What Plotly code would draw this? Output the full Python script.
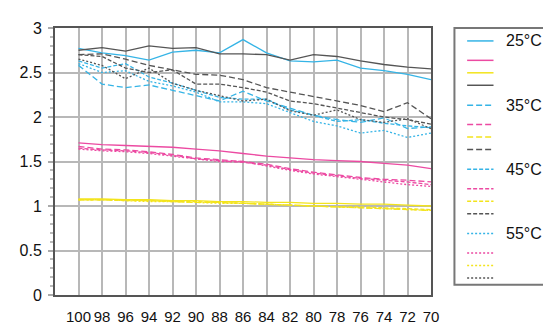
import plotly.graph_objects as go

# ---------------- data ----------------
categories = ["100", "98", "96", "94", "92", "90", "88", "86",
              "84", "82", "80", "78", "76", "74", "72", "70"]
temperatures = ["25°C", "35°C", "45°C", "55°C"]
series_colors = ["#35b4e6", "#ec4aa2", "#f3e41c", "#555555"]

cyan_25 = [2.77, 2.72, 2.69, 2.64, 2.73, 2.75, 2.72, 2.87, 2.72, 2.63, 2.62, 2.64, 2.55, 2.52, 2.48, 2.42]
pink_25 = [1.71, 1.69, 1.68, 1.67, 1.66, 1.64, 1.62, 1.59, 1.56, 1.54, 1.52, 1.51, 1.50, 1.48, 1.46, 1.42]
yellow_25 = [1.08, 1.08, 1.07, 1.07, 1.06, 1.06, 1.05, 1.05, 1.04, 1.04, 1.03, 1.03, 1.02, 1.02, 1.01, 1.00]
gray_25 = [2.75, 2.78, 2.74, 2.80, 2.77, 2.78, 2.71, 2.71, 2.70, 2.64, 2.70, 2.68, 2.63, 2.59, 2.56, 2.54]

cyan_35 = [2.58, 2.37, 2.33, 2.36, 2.30, 2.24, 2.18, 2.29, 2.18, 2.10, 2.02, 1.97, 1.94, 1.99, 1.87, 1.89]
pink_35 = [1.67, 1.64, 1.63, 1.61, 1.58, 1.54, 1.52, 1.50, 1.47, 1.42, 1.38, 1.35, 1.32, 1.30, 1.29, 1.27]
yellow_35 = [1.07, 1.07, 1.07, 1.06, 1.05, 1.04, 1.04, 1.03, 1.02, 1.01, 1.00, 0.99, 0.98, 0.97, 0.96, 0.95]
gray_35 = [2.70, 2.71, 2.65, 2.58, 2.53, 2.48, 2.47, 2.42, 2.33, 2.28, 2.23, 2.18, 2.13, 2.06, 2.16, 1.98]

cyan_45 = [2.63, 2.55, 2.60, 2.45, 2.38, 2.30, 2.22, 2.20, 2.20, 2.08, 2.02, 1.95, 1.97, 1.93, 1.90, 1.88]
pink_45 = [1.65, 1.63, 1.62, 1.60, 1.57, 1.53, 1.51, 1.49, 1.46, 1.41, 1.37, 1.34, 1.31, 1.29, 1.27, 1.24]
yellow_45 = [1.07, 1.07, 1.06, 1.06, 1.05, 1.05, 1.04, 1.03, 1.02, 1.01, 1.00, 0.99, 0.99, 0.98, 0.97, 0.96]
gray_45 = [2.70, 2.68, 2.55, 2.50, 2.53, 2.37, 2.37, 2.33, 2.28, 2.18, 2.15, 2.10, 2.05, 2.00, 1.97, 1.92]

cyan_55 = [2.60, 2.50, 2.52, 2.40, 2.35, 2.28, 2.17, 2.17, 2.15, 2.05, 1.95, 1.90, 1.82, 1.85, 1.77, 1.82]
pink_55 = [1.64, 1.62, 1.61, 1.59, 1.56, 1.53, 1.50, 1.50, 1.45, 1.40, 1.36, 1.33, 1.30, 1.27, 1.24, 1.22]
yellow_55 = [1.07, 1.07, 1.06, 1.05, 1.05, 1.04, 1.03, 1.03, 1.02, 1.01, 1.00, 0.99, 0.98, 0.97, 0.96, 0.95]
gray_55 = [2.65, 2.58, 2.43, 2.55, 2.38, 2.30, 2.24, 2.18, 2.20, 2.07, 2.02, 2.08, 1.97, 1.94, 1.98, 1.87]

y_tick_values = [0, 0.5, 1, 1.5, 2, 2.5, 3]
y_tick_labels = ["0", "0.5", "1", "1.5", "2", "2.5", "3"]

groups = [
    [cyan_25, pink_25, yellow_25, gray_25],
    [cyan_35, pink_35, yellow_35, gray_35],
    [cyan_45, pink_45, yellow_45, gray_45],
    [cyan_55, pink_55, yellow_55, gray_55],
]

# ---------------- styling ----------------
W, H = 551, 329
L, R, T, B = 38, 423, 13, 302
dash_styles = ["solid", "6px,3px", "4px,2px", "2px,2px"]
FONT = "Liberation Sans, Arial, Helvetica, sans-serif"

x_idx = list(range(len(categories)))

fig = go.Figure()
for g, temp in enumerate(temperatures):
    for k, vals in enumerate(groups[g]):
        fig.add_trace(go.Scatter(
            x=x_idx, y=vals, mode="lines",
            line=dict(color=series_colors[k], width=1.3, dash=dash_styles[g]),
            name=temp if k == 0 else "", showlegend=False, hoverinfo="skip"))


def px_x(p):
    return (p - L) / (R - L)


def px_y(p):
    return (B - p) / (B - T)


shapes = []
annotations = []
# legend box
shapes.append(dict(type="rect", xref="paper", yref="paper",
                   x0=px_x(447), x1=px_x(549), y0=px_y(291), y1=px_y(13),
                   line=dict(color="#777777", width=2), fillcolor="white", layer="above"))
for g, temp in enumerate(temperatures):
    for k in range(4):
        yy = 27 + g * 69.5 + (0 if k == 0 else 21 + (k - 1) * 13.5)
        shapes.append(dict(type="line", xref="paper", yref="paper",
                           x0=px_x(460), x1=px_x(487), y0=px_y(yy), y1=px_y(yy),
                           line=dict(color=series_colors[k], width=1.5, dash=dash_styles[g]),
                           layer="above"))
        if k == 0:
            annotations.append(dict(xref="paper", yref="paper", x=px_x(498), y=px_y(yy),
                                    text=temp, showarrow=False, xanchor="left", yanchor="middle",
                                    font=dict(size=16, color="#111111", family=FONT)))

fig.update_layout(
    width=W, height=H,
    margin=dict(l=L, r=W - R, t=T, b=H - B, pad=0),
    plot_bgcolor="white", paper_bgcolor="white",
    font=dict(family=FONT, size=15, color="#111111"),
    showlegend=False,
    shapes=shapes, annotations=annotations,
)
fig.update_xaxes(
    range=[-1, len(categories) - 1], tickvals=x_idx, ticktext=categories,
    showgrid=True, gridcolor="#b8b8b8", gridwidth=2,
    showline=True, linecolor="#555555", linewidth=2, mirror=True,
    ticks="", ticklabelstandoff=7, zeroline=False,
    tickfont=dict(size=15, color="#111111"),
)
fig.update_yaxes(
    range=[0, 3], tickvals=y_tick_values, ticktext=y_tick_labels,
    showgrid=True, gridcolor="#b8b8b8", gridwidth=2,
    showline=True, linecolor="#555555", linewidth=2, mirror=True,
    ticks="outside", ticklen=5, tickcolor="#aaaaaa", tickwidth=2,
    ticklabelstandoff=3, zeroline=False,
    minor=dict(dtick=0.1, ticks="outside", ticklen=3, tickcolor="#bbbbbb", showgrid=False),
    tickfont=dict(size=16, color="#111111"),
)

fig.write_html("out.html")
